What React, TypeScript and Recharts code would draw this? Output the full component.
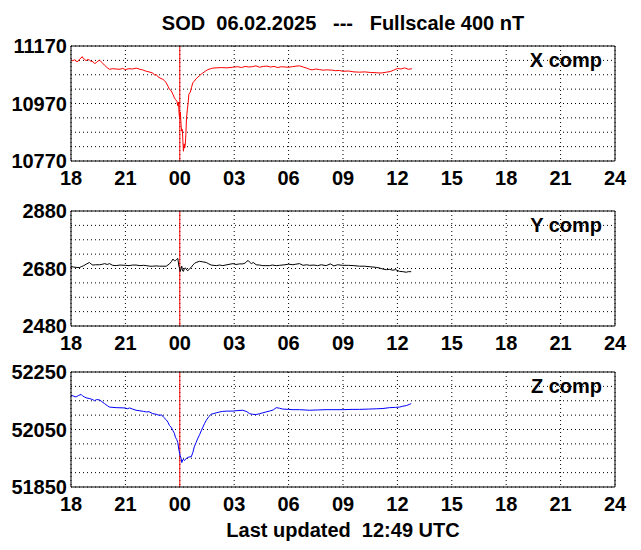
import { LineChart, Line, XAxis, YAxis, CartesianGrid, ReferenceLine } from "recharts";

// hours since 18:00 of the previous day, 0..30
const hourTicks = [0, 3, 6, 9, 12, 15, 18, 21, 24, 27, 30];
const hourLabels = ["18", "21", "00", "03", "06", "09", "12", "15", "18", "21", "24"];
const midnight = 6;

const xCompHours = [
  0.0, 0.1, 0.19, 0.28, 0.38, 0.47, 0.55, 0.62, 0.68, 0.74, 0.83, 0.92, 1.02, 1.1, 1.2, 1.3, 1.39, 1.48, 1.57,
  1.66, 1.75, 1.85, 1.94, 2.03, 2.12, 2.3, 2.49, 2.7, 2.85, 2.99, 3.2, 3.4, 3.6, 3.8, 3.95, 4.15, 4.3, 4.51,
  4.62, 4.7, 4.79, 4.9, 5.07, 5.15, 5.25, 5.35, 5.43, 5.52, 5.62, 5.7, 5.76, 5.84, 5.89, 5.93, 5.96, 5.99,
  6.03, 6.07, 6.1, 6.14, 6.17, 6.2, 6.24, 6.27, 6.31, 6.34, 6.37, 6.42, 6.46, 6.5, 6.58, 6.64, 6.72, 6.8, 6.9,
  7.0, 7.09, 7.18, 7.27, 7.4, 7.55, 7.7, 7.82, 8.0, 8.3, 8.6, 8.9, 9.2, 9.4, 9.6, 9.8, 10.0, 10.2, 10.4, 10.6,
  10.8, 11.0, 11.2, 11.4, 11.6, 11.8, 12.0, 12.2, 12.4, 12.6, 12.8, 13.0, 13.15, 13.3, 13.5, 13.7, 13.9,
  14.1, 14.4, 14.6, 14.8, 14.99, 15.3, 15.6, 15.9, 16.2, 16.5, 16.83, 17.1, 17.4, 17.6, 17.8, 18.0, 18.2,
  18.4, 18.6, 18.8,
];
const xCompValues = [
  11121, 11119, 11122, 11117, 11116, 11124, 11128, 11133, 11126, 11124, 11119, 11123, 11121, 11117, 11116,
  11109, 11112, 11117, 11121, 11115, 11110, 11103, 11098, 11093, 11089, 11091, 11090, 11089, 11092, 11088,
  11091, 11090, 11093, 11089, 11087, 11082, 11080, 11076, 11068, 11071, 11063, 11059, 11054, 11050, 11042,
  11030, 11019, 11015, 11002, 10990, 10984, 10978, 10962, 10975, 10935, 10920, 10940, 10895, 10874, 10880,
  10840, 10804, 10830, 10815, 10832, 10870, 10920, 10950, 10972, 11002, 11010, 11025, 11042, 11048, 11056,
  11062, 11067, 11072, 11076, 11082, 11088, 11091, 11093, 11094, 11095, 11094, 11096, 11098, 11095, 11099,
  11097, 11098, 11101, 11096, 11099, 11100, 11097, 11099, 11095, 11098, 11097, 11096, 11098, 11100, 11101,
  11097, 11093, 11089, 11087, 11090, 11088, 11086, 11087, 11086, 11084, 11085, 11082, 11083, 11080, 11079,
  11080, 11078, 11077, 11076, 11079, 11081, 11086, 11092, 11090, 11094, 11089, 11091,
];

const yCompHours = [
  0.0, 0.15, 0.28, 0.45, 0.56, 0.7, 0.84, 1.02, 1.1, 1.2, 1.35, 1.57, 1.75, 1.85, 2.0, 2.12, 2.3, 2.49, 2.7,
  2.99, 3.2, 3.4, 3.59, 3.8, 4.0, 4.15, 4.35, 4.51, 4.7, 4.88, 5.07, 5.25, 5.43, 5.55, 5.62, 5.7, 5.76, 5.82,
  5.89, 5.95, 5.99, 6.02, 6.06, 6.11, 6.15, 6.2, 6.25, 6.31, 6.38, 6.44, 6.55, 6.63, 6.72, 6.8, 6.9, 7.09,
  7.27, 7.46, 7.6, 7.73, 8.01, 8.2, 8.37, 8.6, 8.93, 9.1, 9.3, 9.48, 9.6, 9.7, 9.77, 9.85, 9.95, 10.05, 10.21,
  10.4, 10.58, 10.75, 10.95, 11.1, 11.32, 11.5, 11.8, 12.0, 12.24, 12.4, 12.6, 12.8, 13.0, 13.15, 13.4, 13.6,
  13.8, 14.07, 14.3, 14.5, 14.7, 14.99, 15.3, 15.6, 15.91, 16.2, 16.5, 16.83, 17.0, 17.2, 17.4, 17.57, 17.75,
  17.9, 18.12, 18.3, 18.49, 18.6, 18.76,
];
const yCompValues = [
  2687, 2685, 2684, 2683, 2686, 2690, 2695, 2701, 2696, 2692, 2693, 2693, 2695, 2697, 2694, 2697, 2691, 2690,
  2692, 2691, 2690, 2692, 2692, 2690, 2691, 2690, 2688, 2688, 2689, 2688, 2688, 2688, 2696, 2705, 2713, 2707,
  2707, 2712, 2715, 2688, 2680, 2670, 2678, 2688, 2672, 2670, 2680, 2682, 2675, 2672, 2680, 2684, 2692, 2697,
  2701, 2705, 2703, 2701, 2696, 2692, 2690, 2692, 2690, 2693, 2697, 2694, 2696, 2696, 2699, 2705, 2708, 2702,
  2697, 2701, 2693, 2692, 2690, 2690, 2690, 2692, 2690, 2691, 2693, 2695, 2693, 2695, 2697, 2691, 2693, 2691,
  2692, 2690, 2693, 2690, 2696, 2689, 2693, 2691, 2691, 2690, 2688, 2688, 2686, 2684, 2682, 2678, 2676, 2677,
  2674, 2676, 2670, 2669, 2667, 2669, 2669,
];

const zCompHours = [
  0.0, 0.15, 0.28, 0.4, 0.56, 0.65, 0.75, 0.84, 1.0, 1.1, 1.2, 1.3, 1.4, 1.57, 1.7, 1.85, 2.0, 2.12, 2.49,
  2.99, 3.1, 3.23, 3.4, 3.59, 3.8, 4.0, 4.15, 4.3, 4.51, 4.7, 4.88, 5.0, 5.1, 5.25, 5.35, 5.43, 5.52, 5.62,
  5.7, 5.76, 5.83, 5.89, 5.95, 6.02, 6.07, 6.11, 6.16, 6.2, 6.25, 6.31, 6.38, 6.44, 6.55, 6.63, 6.72, 6.8, 6.9,
  7.0, 7.09, 7.18, 7.27, 7.36, 7.46, 7.6, 7.73, 8.01, 8.2, 8.37, 8.6, 8.93, 9.2, 9.48, 9.7, 9.85, 10.0, 10.21,
  10.4, 10.58, 10.8, 10.95, 11.15, 11.32, 11.5, 11.68, 12.0, 12.24, 12.6, 13.15, 13.6, 14.07, 14.5, 14.99,
  15.5, 15.91, 16.4, 16.83, 17.2, 17.57, 17.9, 18.12, 18.3, 18.49, 18.65, 18.76,
];
const zCompValues = [
  52169, 52166, 52163, 52168, 52172, 52166, 52163, 52160, 52158, 52156, 52154, 52150, 52154, 52153, 52147,
  52140, 52133, 52128, 52126, 52125, 52122, 52125, 52121, 52117, 52115, 52113, 52111, 52112, 52105, 52103,
  52099, 52101, 52093, 52084, 52075, 52064, 52058, 52046, 52037, 52023, 52015, 52005, 51979, 51959, 51950,
  51935, 51944, 51947, 51942, 51945, 51951, 51953, 51955, 51955, 51970, 51990, 52005, 52020, 52032, 52045,
  52058, 52070, 52082, 52095, 52103, 52108, 52111, 52113, 52114, 52114, 52116, 52117, 52112, 52105, 52103,
  52102, 52105, 52108, 52112, 52114, 52118, 52126, 52124, 52121, 52120, 52119, 52119, 52117, 52118, 52119,
  52119, 52119, 52120, 52120, 52121, 52122, 52123, 52126, 52127, 52128, 52131, 52133, 52137, 52140,
];

const xCompTicks = [10770, 10970, 11170];
const yCompTicks = [2480, 2680, 2880];
const zCompTicks = [51850, 52050, 52250];

const font = "'Liberation Sans', Arial, Helvetica, sans-serif";
const tickStyle = { fill: "#000", fontSize: 20, fontWeight: 700, fontFamily: font };

interface PanelProps {
  top: number;
  hours: number[];
  values: number[];
  ticks: number[];
  color: string;
  label: string;
}

function Panel({ top, hours, values, ticks, color, label }: PanelProps) {
  const data = hours.map((h, i) => ({ h, v: values[i] }));
  const min = ticks[0];
  const max = ticks[ticks.length - 1];
  // dotted grid every 50 nT, labels only on the three main ticks
  const grid: number[] = [];
  for (let v = min; v <= max; v += 50) grid.push(v);
  const dom: [number, number] = [min, max];

  return (
    <>
      <div style={{ position: "absolute", left: 0, top: top - 12 }}>
        <LineChart width={641} height={157} data={data} margin={{ top: 12, right: 26, bottom: 0, left: 0 }}>
          <CartesianGrid xAxisId="b" yAxisId="l" stroke="#000" strokeDasharray="1 3" />
          <XAxis
            xAxisId="b"
            dataKey="h"
            type="number"
            domain={[0, 30]}
            ticks={hourTicks}
            interval={0}
            allowDataOverflow
            tickFormatter={(h: number) => hourLabels[hourTicks.indexOf(h)]}
            tickLine={false}
            tickSize={0}
            tickMargin={10}
            axisLine={{ stroke: "#000" }}
            tick={tickStyle}
            height={30}
          />
          <XAxis xAxisId="t" orientation="top" mirror type="number" domain={[0, 30]} ticks={hourTicks} interval={0}
            tick={false} tickLine={false} axisLine={{ stroke: "#000" }} />
          <YAxis
            yAxisId="l"
            type="number"
            domain={dom}
            ticks={grid}
            interval={0}
            allowDataOverflow
            width={71}
            tickFormatter={(v: number) => (ticks.includes(v) ? String(v) : "")}
            tickLine={false}
            tickSize={0}
            tickMargin={4}
            axisLine={{ stroke: "#000" }}
            tick={tickStyle}
          />
          <YAxis yAxisId="r" orientation="right" mirror type="number" domain={dom} ticks={grid} interval={0}
            tick={false} tickLine={false} axisLine={{ stroke: "#000" }} />
          <ReferenceLine xAxisId="b" yAxisId="l" x={midnight} stroke="#ff0000" strokeWidth={1} />
          <Line
            xAxisId="b"
            yAxisId="l"
            type="linear"
            dataKey="v"
            stroke={color}
            strokeWidth={1}
            dot={false}
            isAnimationActive={false}
          />
        </LineChart>
      </div>
      <div
        style={{
          position: "absolute",
          left: 0,
          width: 602,
          top: top + 4,
          textAlign: "right",
          fontSize: 20,
          fontWeight: 700,
          lineHeight: "20px",
          fontFamily: font,
        }}
      >
        {label}
      </div>
    </>
  );
}

export default function App() {
  return (
    <div style={{ position: "absolute", left: 0, top: 0, width: 641, height: 550, background: "#fff", fontFamily: font }}>
      <div
        style={{
          position: "absolute",
          left: 343,
          top: 13,
          transform: "translateX(-50%)",
          whiteSpace: "pre",
          fontSize: 20,
          fontWeight: 700,
          lineHeight: "20px",
        }}
      >
        {"SOD  06.02.2025   ---   Fullscale 400 nT"}
      </div>
      <Panel top={46} hours={xCompHours} values={xCompValues} ticks={xCompTicks} color="#ff0000" label="X comp" />
      <Panel top={211} hours={yCompHours} values={yCompValues} ticks={yCompTicks} color="#000000" label="Y comp" />
      <Panel top={372} hours={zCompHours} values={zCompValues} ticks={zCompTicks} color="#0000ff" label="Z comp" />
      <div
        style={{
          position: "absolute",
          left: 343,
          top: 520,
          transform: "translateX(-50%)",
          whiteSpace: "pre",
          fontSize: 20,
          fontWeight: 700,
          lineHeight: "20px",
        }}
      >
        {"Last updated  12:49 UTC"}
      </div>
    </div>
  );
}
